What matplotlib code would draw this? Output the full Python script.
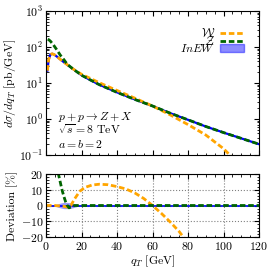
import numpy as np
import matplotlib
matplotlib.use("Agg")
import matplotlib.pyplot as plt
from matplotlib.ticker import MultipleLocator, LogLocator, NullFormatter
from matplotlib.patches import Patch
from matplotlib.lines import Line2D

plt.rcParams['font.family'] = 'serif'
plt.rcParams['font.serif'] = ['cmr10']
plt.rcParams['mathtext.fontset'] = 'cm'
plt.rcParams['axes.formatter.use_mathtext'] = True
plt.rcParams['axes.unicode_minus'] = True

# ---- data: top panel (d sigma / d qT, pb/GeV) ----
qt_inew = [0.8, 1.5, 2.5, 3.5, 5, 7, 10, 15, 20, 25, 30, 40, 50, 60, 70, 80, 90, 100, 110, 120]
xs_inew = [22, 45, 62, 65, 60, 50, 38, 25, 16.5, 12, 9.0, 5.5, 3.5, 2.3, 1.45, 0.95, 0.62, 0.42, 0.29, 0.2]
xs_inew_err = [0.02] * len(qt_inew)   # relative band half-width

qt_w = [0.8, 1.5, 2.5, 3.5, 5, 7, 10, 15, 20, 25, 30, 40, 50, 60, 70, 80, 90, 100, 105]
xs_w = [22, 45, 62, 65, 60, 50, 38, 25, 17.5, 13.4, 10.2, 6.2, 3.8, 2.3, 1.3, 0.7, 0.36, 0.15, 0.085]

qt_z = [1.0, 1.5, 2.5, 4, 6, 8, 10, 12, 15, 20, 30, 40, 50, 60, 70, 80, 90, 100, 110, 120]
xs_z = [165, 160, 145, 118, 85, 60, 45, 33, 25, 16.5, 9.0, 5.5, 3.5, 2.3, 1.45, 0.95, 0.62, 0.42, 0.29, 0.2]

# ---- data: bottom panel (deviation, %) ----
qt_dev_w = [0, 5, 10, 12, 14, 16, 19, 22, 26, 30, 35, 40, 45, 50, 55, 60, 65, 70, 75, 78]
dev_w = [0, 0, -0.5, -1, 0, 4, 9, 11.5, 13, 13.5, 13.2, 12, 10.5, 8, 4.5, 0, -5, -10.5, -16.5, -21]

qt_dev_z = [6, 7, 8, 9, 10, 11, 12, 13, 14, 16, 20, 40, 60, 80, 100, 120]
dev_z = [26, 20, 15, 10, 6, 2.5, 0, -1.5, -1, 0, 0, 0, 0, 0, 0, 0]

qt_dev_band = [0, 5, 8, 10, 12, 15, 18, 20, 40, 60, 80, 100, 120]
dev_band = [0.3, 0.5, 1.5, 2, 2, 1.5, 0.5, 0.2, 0.2, 0.2, 0.2, 0.2, 0.2]

orange = '#FFA500'
green = '#006400'
blue = '#0000FF'

fig = plt.figure(figsize=(2.74, 2.74), dpi=100)
ax1 = fig.add_axes([46/274, 1-155/274, 213/274, 144/274])
ax2 = fig.add_axes([46/274, 1-237/274, 213/274, 63/274])

fs = 8.5

# top panel
qi = np.array(qt_inew); yi = np.array(xs_inew); ei = np.array(xs_inew_err)
ax1.fill_between(qi, yi*(1-ei), yi*(1+ei), color=blue, alpha=0.4, lw=0)
ax1.plot(qi, yi, color=blue, lw=1.6)
ax1.plot(qt_w, xs_w, color=orange, lw=2, ls=(0, (2, 1)))
ax1.plot(qt_z, xs_z, color=green, lw=2, ls=(0, (2, 1)))
ax1.set_yscale('log')
ax1.set_xlim(0, 120)
ax1.set_ylim(0.1, 1000)
ax1.set_ylabel(r'$d\sigma/dq_T$ [pb/GeV]', fontsize=fs, labelpad=1)
ax1.tick_params(labelbottom=False)
ax1.yaxis.set_major_locator(LogLocator(base=10, numticks=10))
ax1.yaxis.set_minor_locator(LogLocator(base=10, subs=np.arange(2, 10), numticks=50))
ax1.yaxis.set_minor_formatter(NullFormatter())

ax1.text(0.055, 0.245, r'$p + p \to Z + X$', transform=ax1.transAxes, fontsize=fs)
ax1.text(0.055, 0.145, r'$\sqrt{s} = 8$ TeV', transform=ax1.transAxes, fontsize=fs)
ax1.text(0.055, 0.05, r'$a = b = 2$', transform=ax1.transAxes, fontsize=fs)

handles = [Line2D([], [], color=orange, lw=2, ls=(0, (2, 1))),
           Line2D([], [], color=green, lw=2, ls=(0, (2, 1))),
           Patch(facecolor=blue, alpha=0.45, edgecolor=blue)]
labels = [r'$\mathcal{W}$', r'$\mathcal{Z}$', r'$InEW$']
ax1.legend(handles, labels, loc='upper right', frameon=False, markerfirst=False,
           fontsize=fs, labelspacing=-0.4, handlelength=2.0, handletextpad=0.4,
           handleheight=0.6, borderaxespad=0.9)

# bottom panel
qb = np.array(qt_dev_band); db = np.array(dev_band)
ax2.fill_between(qb, -db, db, color=blue, alpha=0.4, lw=0)
ax2.plot(qb, 0*qb, color=blue, lw=1.2)
ax2.plot(qt_dev_w, dev_w, color=orange, lw=2, ls=(0, (2, 1)))
ax2.plot(qt_dev_z, dev_z, color=green, lw=2, ls=(0, (2, 1)))
ax2.set_xlim(0, 120)
ax2.set_ylim(-20, 20)
ax2.set_xlabel(r'$q_T$ [GeV]', fontsize=fs, labelpad=1)
ax2.set_ylabel('Deviation [%]', fontsize=fs, labelpad=2)
ax2.grid(True, ls=':', color='gray', lw=0.8)
ax2.yaxis.set_major_locator(MultipleLocator(10))
ax2.yaxis.set_minor_locator(MultipleLocator(2))

for ax in (ax1, ax2):
    ax.xaxis.set_major_locator(MultipleLocator(20))
    ax.xaxis.set_minor_locator(MultipleLocator(5))
    ax.tick_params(which='both', direction='in', top=True, right=True, labelsize=fs, pad=2)
    ax.tick_params(which='major', length=3.5)
    ax.tick_params(which='minor', length=1.8)

fig.savefig('out.png', dpi=100)
